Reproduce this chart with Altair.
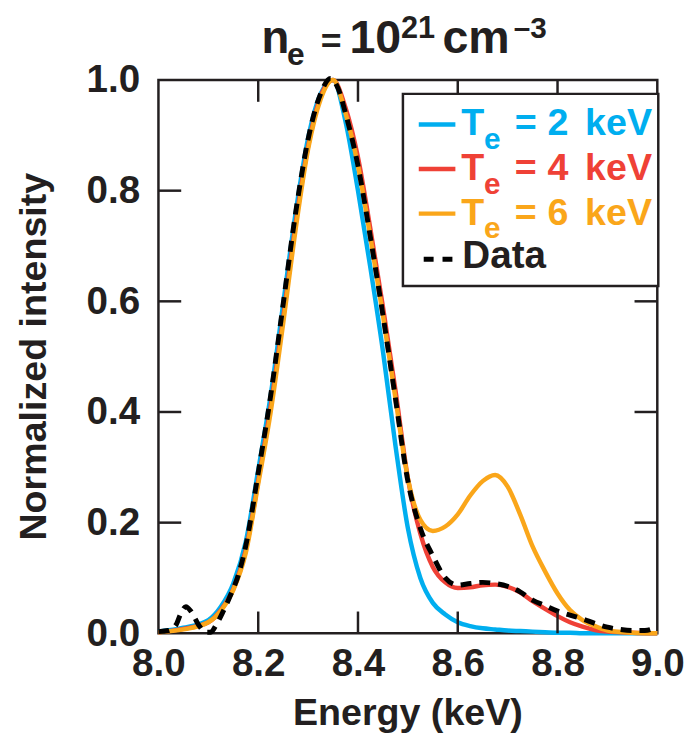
import altair as alt
import pandas as pd

# ---------------- data ----------------
energy = [8.00, 8.05, 8.10, 8.125, 8.15, 8.175, 8.20, 8.225, 8.25, 8.275,
          8.30, 8.325, 8.35, 8.375, 8.40, 8.425, 8.45, 8.475, 8.50, 8.525,
          8.55, 8.575, 8.60, 8.625, 8.65, 8.675, 8.70, 8.725, 8.75, 8.775,
          8.80, 8.825, 8.85, 8.875, 8.90, 8.95, 9.00]

te2_kev = [0.003, 0.01, 0.024, 0.048, 0.09, 0.165, 0.295, 0.43, 0.595, 0.76,
           0.895, 0.975, 1.0, 0.925, 0.80, 0.66, 0.51, 0.34, 0.19, 0.10,
           0.055, 0.034, 0.02, 0.013, 0.009, 0.007, 0.005, 0.004, 0.003, 0.002,
           0.001, 0.001, 0.0, 0.0, 0.0, 0.0, 0.0]

te4_kev = [0.002, 0.008, 0.02, 0.042, 0.08, 0.15, 0.275, 0.41, 0.57, 0.74,
           0.88, 0.97, 1.0, 0.95, 0.86, 0.73, 0.59, 0.44, 0.28, 0.18,
           0.12, 0.092, 0.082, 0.083, 0.087, 0.088, 0.084, 0.074, 0.058, 0.044,
           0.031, 0.02, 0.012, 0.006, 0.003, 0.001, 0.0]

te6_kev = [0.002, 0.007, 0.02, 0.04, 0.078, 0.145, 0.27, 0.40, 0.56, 0.73,
           0.875, 0.965, 1.0, 0.94, 0.845, 0.715, 0.575, 0.425, 0.28, 0.205,
           0.185, 0.193, 0.215, 0.249, 0.275, 0.286, 0.265, 0.215, 0.157, 0.112,
           0.072, 0.042, 0.024, 0.013, 0.005, 0.001, 0.0]

data_energy = [8.00, 8.02, 8.035, 8.045, 8.055, 8.065, 8.08, 8.095, 8.105, 8.115,
               8.13, 8.145, 8.16, 8.175, 8.20, 8.225, 8.25, 8.275, 8.30, 8.325,
               8.345, 8.36, 8.375, 8.40, 8.425, 8.45, 8.475, 8.50, 8.525, 8.55,
               8.575, 8.60, 8.625, 8.65, 8.675, 8.70, 8.725, 8.75, 8.775, 8.80,
               8.825, 8.85, 8.875, 8.90, 8.925, 8.95, 8.975, 9.00]
data_intensity = [0.003, 0.005, 0.015, 0.036, 0.048, 0.04, 0.016, 0.002, 0.002, 0.014,
                  0.04, 0.07, 0.105, 0.158, 0.29, 0.43, 0.595, 0.76, 0.893, 0.975,
                  1.003, 0.985, 0.94, 0.845, 0.715, 0.575, 0.425, 0.275, 0.19, 0.14,
                  0.10, 0.087, 0.09, 0.092, 0.09, 0.085, 0.075, 0.06, 0.05, 0.04,
                  0.033, 0.026, 0.018, 0.011, 0.007, 0.005, 0.005, 0.012]

x_ticks = [8.0, 8.2, 8.4, 8.6, 8.8, 9.0]
y_ticks = [0.0, 0.2, 0.4, 0.6, 0.8, 1.0]
inner_x_ticks = [8.2, 8.4, 8.6, 8.8]
inner_y_ticks = [0.2, 0.4, 0.6, 0.8]

legend_values = ["2", "4", "6"]

# ---------------- style ----------------
BLUE = "#00AEEF"
RED = "#EF4136"
ORANGE = "#FAA61A"
INK = "#231F20"
FONT = "Liberation Sans"
W, H = 504, 559

xscale = alt.Scale(domain=[8.0, 9.0], nice=False, zero=False)
yscale = alt.Scale(domain=[0.0, 1.0], nice=False, zero=False)


def model_layer(values, color):
    df = pd.DataFrame({"energy": energy, "intensity": values})
    return alt.Chart(df).mark_line(
        color=color, strokeWidth=4.5, interpolate="monotone", strokeCap="butt"
    ).encode(
        x=alt.X("energy:Q", scale=xscale,
                axis=alt.Axis(values=x_ticks, format=".1f", title=None)),
        y=alt.Y("intensity:Q", scale=yscale,
                axis=alt.Axis(values=y_ticks, format=".1f", title=None)),
    )


blue = model_layer(te2_kev, BLUE)
red = model_layer(te4_kev, RED)
orange = model_layer(te6_kev, ORANGE)

meas = alt.Chart(pd.DataFrame({"energy": data_energy, "intensity": data_intensity})).mark_line(
    color="black", strokeWidth=5, strokeDash=[11, 8], interpolate="monotone", strokeCap="butt"
).encode(x=alt.X("energy:Q", scale=xscale), y=alt.Y("intensity:Q", scale=yscale))

# inward ticks on all four sides
xt = pd.DataFrame({"v": inner_x_ticks})
yt = pd.DataFrame({"v": inner_y_ticks})
tick_style = dict(color=INK, strokeWidth=2.5)
ticks_bottom = alt.Chart(xt).mark_rule(**tick_style).encode(
    x=alt.X("v:Q", scale=xscale), y=alt.value(H), y2=alt.value(H - 22))
ticks_top = alt.Chart(xt).mark_rule(**tick_style).encode(
    x=alt.X("v:Q", scale=xscale), y=alt.value(0), y2=alt.value(22))
ticks_left = alt.Chart(yt).mark_rule(**tick_style).encode(
    y=alt.Y("v:Q", scale=yscale), x=alt.value(0), x2=alt.value(23))
ticks_right = alt.Chart(yt).mark_rule(**tick_style).encode(
    y=alt.Y("v:Q", scale=yscale), x=alt.value(W), x2=alt.value(W - 23))

one = pd.DataFrame({"k": [0]})


def txt(s, x, y, size, color=INK, angle=0, align="left", baseline="alphabetic"):
    return alt.Chart(one).mark_text(
        text=s, font=FONT, fontWeight="bold", fontSize=size, color=color,
        align=align, baseline=baseline, angle=angle
    ).encode(x=alt.value(x), y=alt.value(y))


def hline(x1, x2, y, color, dash=None, width=4.5):
    kw = dict(color=color, strokeWidth=width, strokeCap="butt")
    if dash:
        kw["strokeDash"] = dash
    return alt.Chart(one).mark_rule(**kw).encode(
        x=alt.value(x1), x2=alt.value(x2), y=alt.value(y))


# legend box
legend_box = alt.Chart(one).mark_rect(
    fill="white", stroke=INK, strokeWidth=2.5
).encode(x=alt.value(247), x2=alt.value(505), y=alt.value(14), y2=alt.value(208))

legend_layers = [legend_box]
for i, (val, col) in enumerate(zip(legend_values, [BLUE, RED, ORANGE])):
    base = 56 + 45 * i
    legend_layers.append(hline(263, 300, base - 11, col))
    legend_layers.append(txt("T", 306, base, 38, col))
    legend_layers.append(txt("e", 329, base + 14, 30, col))
    legend_layers.append(txt("=", 360, base, 38, col))
    legend_layers.append(txt(val, 393, base, 38, col))
    legend_layers.append(txt("keV", 431, base, 38, col))
legend_layers.append(hline(268, 299, 181, "black", dash=[10, 9], width=5))
legend_layers.append(txt("Data", 307, 190, 39, INK))

# title n_e = 10^21 cm^-3
title_layers = [
    txt("n", 104, -27, 46),
    txt("e", 130, -15, 32),
    txt("=", 164, -27, 36),
    txt("10", 193, -27, 47),
    txt("21", 245, -42, 31),
    txt("cm", 287, -27, 47),
    txt("\u20133", 359, -42, 30),
]

axis_titles = [
    txt("Energy (keV)", W / 2, 652, 38, align="center"),
    txt("Normalized intensity", -125, H / 2, 38, angle=270, align="center", baseline="middle"),
]

chart = alt.layer(
    blue, red, orange, meas,
    ticks_bottom, ticks_top, ticks_left, ticks_right,
    *legend_layers, *title_layers, *axis_titles
).properties(
    width=W, height=H,
    autosize=alt.AutoSizeParams(type="none"),
    padding={"left": 152, "top": 69, "right": 29, "bottom": 100},
).configure_view(
    stroke=INK, strokeWidth=2.5
).configure_axis(
    grid=False, domain=False, ticks=False, tickSize=0,
    labelFont=FONT, labelFontWeight="bold", labelFontSize=39, labelColor=INK,
).configure_axisX(
    labelPadding=12, labelFlush=False
).configure_axisY(
    labelPadding=19, labelFlush=False
)

chart.save("out.html", embed_options={"renderer": "svg", "actions": False})
